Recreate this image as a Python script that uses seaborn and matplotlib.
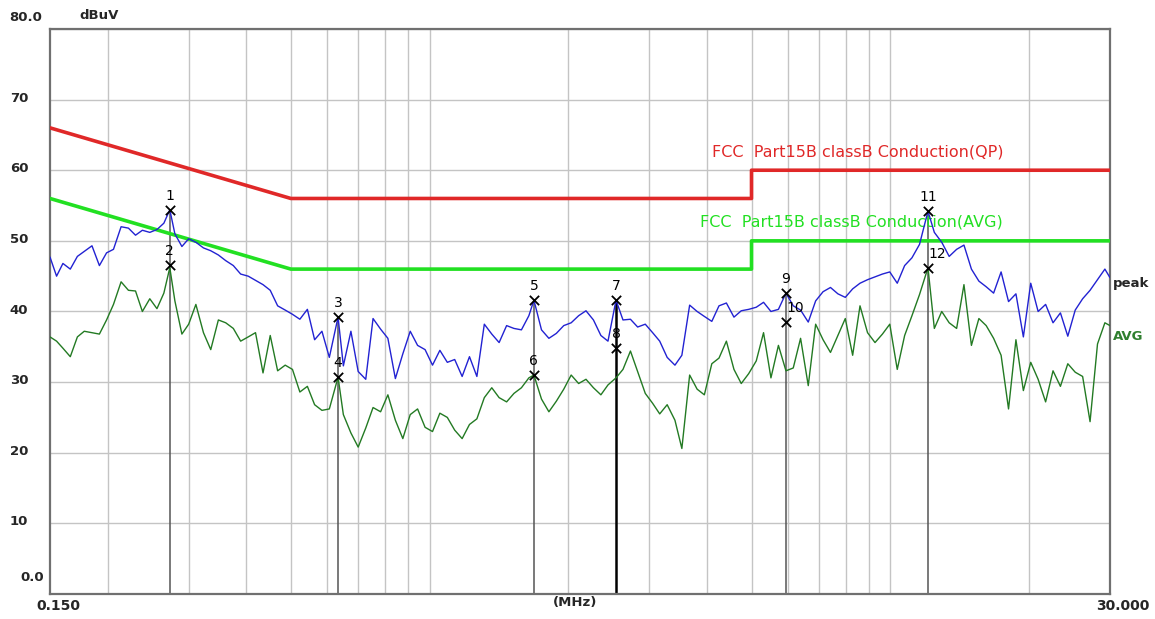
import matplotlib
matplotlib.use("Agg")
import matplotlib.pyplot as plt
import seaborn as sns

sns.set_style("white")
plt.rcParams['font.family'] = ['DejaVu Sans']

# sweep frequencies (MHz)
freq_mhz = [
    0.150, 0.155, 0.160, 0.166, 0.172, 0.178, 0.185, 0.192, 0.199, 0.206,
    0.214, 0.222, 0.230, 0.238, 0.247, 0.256, 0.265, 0.273, 0.280, 0.290,
    0.300, 0.311, 0.323, 0.335, 0.348, 0.361, 0.375, 0.389, 0.404, 0.419,
    0.435, 0.451, 0.468, 0.486, 0.504, 0.523, 0.543, 0.563, 0.584, 0.606,
    0.633, 0.650, 0.675, 0.700, 0.727, 0.754, 0.783, 0.812, 0.843, 0.875,
    0.908, 0.942, 0.978, 1.015, 1.053, 1.093, 1.134, 1.177, 1.221, 1.267,
    1.315, 1.365, 1.416, 1.470, 1.525, 1.583, 1.643, 1.685, 1.750, 1.816,
    1.885, 1.956, 2.030, 2.107, 2.186, 2.269, 2.355, 2.440, 2.540, 2.630,
    2.730, 2.830, 2.940, 3.050, 3.160, 3.280, 3.410, 3.530, 3.670, 3.810,
    3.950, 4.100, 4.250, 4.410, 4.580, 4.750, 4.930, 5.120, 5.310, 5.510,
    5.720, 5.940, 6.160, 6.390, 6.640, 6.890, 7.150, 7.420, 7.700, 7.990,
    8.290, 8.600, 8.930, 9.270, 9.620, 9.980, 10.36, 10.75, 11.15, 11.58,
    12.08, 12.47, 12.94, 13.43, 13.94, 14.46, 15.01, 15.58, 16.16, 16.77,
    17.41, 18.07, 18.75, 19.46, 20.19, 20.95, 21.75, 22.57, 23.42, 24.30,
    25.22, 26.17, 27.16, 28.19, 29.25, 30.00,
]

# peak detector trace (dBuV)
peak_dbuv = [
    47.7, 45.0, 46.8, 46.0, 47.8, 48.5, 49.3, 46.5, 48.3, 48.8,
    52.0, 51.8, 50.8, 51.5, 51.2, 51.6, 52.5, 54.4, 51.0, 49.2,
    50.3, 49.8, 49.0, 48.6, 48.0, 47.2, 46.5, 45.3, 45.0, 44.4,
    43.8, 43.0, 40.8, 40.2, 39.6, 38.9, 40.3, 36.0, 37.2, 33.5,
    39.2, 32.3, 37.2, 31.5, 30.4, 39.0, 37.5, 36.2, 30.5, 34.0,
    37.2, 35.2, 34.6, 32.4, 34.5, 32.8, 33.2, 30.8, 33.6, 30.8,
    38.2, 36.8, 35.6, 38.0, 37.6, 37.4, 39.4, 41.6, 37.4, 36.2,
    36.9, 38.0, 38.4, 39.4, 40.1, 38.8, 36.6, 35.8, 41.6, 38.8,
    38.9, 37.8, 38.2, 37.0, 35.8, 33.5, 32.4, 33.8, 40.9, 40.0,
    39.3, 38.6, 40.8, 41.2, 39.2, 40.1, 40.3, 40.6, 41.3, 40.0,
    40.3, 42.6, 40.8, 40.2, 38.5, 41.5, 42.8, 43.4, 42.5, 42.0,
    43.2, 44.0, 44.5, 44.9, 45.3, 45.6, 44.0, 46.5, 47.6, 49.5,
    54.2, 51.2, 49.8, 47.8, 48.8, 49.4, 46.0, 44.3, 43.5, 42.6,
    45.6, 41.4, 42.5, 36.4, 44.0, 40.0, 41.0, 38.4, 39.8, 36.5,
    40.2, 41.8, 43.0, 44.5, 46.0, 44.8,
]

# average detector trace (dBuV)
avg_dbuv = [
    36.4, 35.8, 34.8, 33.6, 36.4, 37.2, 37.0, 36.8, 38.8, 41.0,
    44.2, 43.0, 42.9, 40.0, 41.8, 40.4, 42.6, 46.2, 41.5, 36.8,
    38.2, 41.0, 37.0, 34.6, 38.8, 38.4, 37.6, 35.8, 36.4, 37.0,
    31.3, 36.6, 31.6, 32.4, 31.8, 28.6, 29.4, 26.8, 26.0, 26.2,
    30.7, 25.4, 22.8, 20.8, 23.5, 26.4, 25.8, 28.2, 24.6, 22.0,
    25.4, 26.2, 23.6, 23.0, 25.6, 25.0, 23.2, 22.0, 24.0, 24.8,
    27.8, 29.2, 27.8, 27.2, 28.4, 29.2, 30.6, 31.0, 27.6, 25.8,
    27.3, 29.0, 31.0, 29.8, 30.4, 29.2, 28.2, 29.6, 30.6, 31.8,
    34.4, 31.5, 28.4, 27.0, 25.5, 26.8, 24.6, 20.6, 31.0, 29.0,
    28.2, 32.6, 33.4, 35.8, 31.8, 29.8, 31.2, 33.0, 37.0, 30.6,
    35.2, 31.6, 32.0, 36.2, 29.5, 38.2, 36.0, 34.2, 36.6, 39.0,
    33.8, 40.8, 37.0, 35.6, 36.8, 38.2, 31.8, 36.6, 39.4, 42.4,
    46.2, 37.6, 40.0, 38.4, 37.6, 43.8, 35.2, 39.0, 38.0, 36.2,
    33.8, 26.2, 36.0, 28.8, 32.8, 30.4, 27.2, 31.6, 29.4, 32.6,
    31.4, 30.8, 24.4, 35.4, 38.4, 38.0,
]

# FCC Part 15B class B limits
limit_freq = [0.15, 0.5, 5.0, 5.0, 30.0]
limit_qp = [66, 56, 56, 60, 60]
limit_avg = [56, 46, 46, 50, 50]

# measured markers
marker_no = ["1", "2", "3", "4", "5", "6", "7", "8", "9", "10", "11", "12"]
marker_freq = [0.273, 0.273, 0.633, 0.633, 1.685, 1.685, 2.54, 2.54, 5.94, 5.94, 12.08, 12.08]
marker_level = [54.4, 46.6, 39.2, 30.7, 41.6, 31.0, 41.6, 34.8, 42.6, 38.5, 54.2, 46.2]

y_ticks = [0, 10, 20, 30, 40, 50, 60, 70, 80]
y_tick_labels = ["0.0", "10", "20", "30", "40", "50", "60", "70", "80.0"]
x_grid = [0.2, 0.3, 0.4, 0.5, 0.6, 0.7, 0.8, 0.9, 1, 2, 3, 4, 5, 6, 7, 8, 9, 10, 20]

fig = plt.figure(figsize=(11.55, 6.19), dpi=100)
ax = fig.add_axes([0.0433, 0.0404, 0.9177, 0.9128])

ax.set_xscale("log")
ax.set_xlim(0.15, 30)
ax.set_ylim(0, 80)
ax.set_xticks(x_grid)
ax.set_xticks([], minor=True)
ax.set_yticks(y_ticks)
ax.tick_params(length=0, labelbottom=False, labelleft=False)
ax.grid(True, color="#c4c4c4", lw=1)
for s in ax.spines.values():
    s.set_color("#707070")
    s.set_linewidth(1.6)

# marker drop lines
for i in range(0, len(marker_no), 2):
    if marker_no[i] == "7":
        ax.vlines(marker_freq[i], 0, marker_level[i], colors="black", lw=1.8, zorder=2)
    else:
        ax.vlines(marker_freq[i], 0, marker_level[i], colors="#555555", lw=1.1, zorder=2)

# limit lines
sns.lineplot(x=limit_freq, y=limit_qp, ax=ax, color="#e02828", lw=2.6, sort=False, estimator=None, zorder=3)
sns.lineplot(x=limit_freq, y=limit_avg, ax=ax, color="#22e022", lw=2.6, sort=False, estimator=None, zorder=3)

# traces
sns.lineplot(x=freq_mhz, y=avg_dbuv, ax=ax, color="#237a23", lw=1.0, zorder=4)
sns.lineplot(x=freq_mhz, y=peak_dbuv, ax=ax, color="#2222d2", lw=1.0, zorder=5)

# markers
sns.scatterplot(x=marker_freq, y=marker_level, ax=ax, marker="x", color="black", s=45, linewidth=1.3, zorder=6)
for no, f, lv in zip(marker_no, marker_freq, marker_level):
    dx = 7 if no in ("10", "12") else 0
    ax.annotate(no, (f, lv), xytext=(dx, 5), textcoords="offset points",
                ha="center", va="bottom", fontsize=10, color="black", zorder=7)

# limit captions
ax.text(4.10, 62.6, "FCC  Part15B classB Conduction(QP)", color="#e02828", fontsize=11.5, va="center")
ax.text(3.86, 52.7, "FCC  Part15B classB Conduction(AVG)", color="#22e022", fontsize=11.5, va="center")

# trace names on the right
ax.text(1.003, 44.0, "peak", transform=ax.get_yaxis_transform(), fontsize=9.5,
        fontweight="bold", va="center", ha="left")
ax.text(1.003, 36.4, "AVG", transform=ax.get_yaxis_transform(), fontsize=9.5,
        fontweight="bold", color="#2f7f2f", va="center", ha="left")

# y labels drawn as text (ends shifted inward like the analyser software)
for v, lab in zip(y_ticks, y_tick_labels):
    if lab == "80.0":
        yv, xv = 81.6, -0.038
    elif lab == "0.0":
        yv, xv = 2.4, -0.028
    else:
        yv, xv = v + 0.2, -0.038
    ax.text(xv, yv, lab, transform=ax.get_yaxis_transform(), fontsize=9.5,
            fontweight="bold", ha="left", va="center", clip_on=False)

ax.text(0.028, 1.023, "dBuV", transform=ax.transAxes, fontsize=9.5, fontweight="bold", va="center")
ax.text(0.0075, -0.022, "0.150", transform=ax.transAxes, fontsize=10, fontweight="bold", ha="center", va="center")
ax.text(1.012, -0.021, "30.000", transform=ax.transAxes, fontsize=10, fontweight="bold", ha="center", va="center")
ax.text(0.495, -0.015, "(MHz)", transform=ax.transAxes, fontsize=9.5, fontweight="bold", ha="center", va="center")

ax.set_xlabel("")
ax.set_ylabel("")
fig.savefig("out.png", dpi=100)
